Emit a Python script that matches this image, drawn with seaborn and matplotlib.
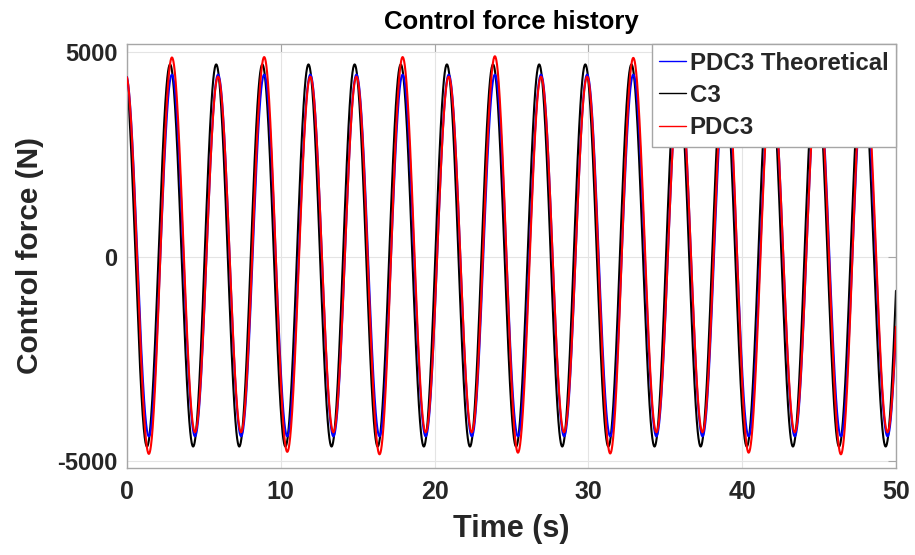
import numpy as np
import pandas as pd
import matplotlib
matplotlib.use("Agg")
import matplotlib.pyplot as plt
import seaborn as sns

# ---- data (times and values of successive extrema) ----
c3_ext_t = [-0.20, 1.30, 2.80, 4.30, 5.80, 7.30, 8.80, 10.30, 11.80, 13.30, 14.80,
            16.30, 17.80, 19.30, 20.80, 22.30, 23.80, 25.30, 26.80, 28.30, 29.80,
            31.30, 32.80, 34.30, 35.80, 37.30, 38.80, 40.30, 41.80, 43.30, 44.80,
            46.30, 47.80, 49.33, 50.85]
c3_ext_v = [4700, -4650, 4700, -4650, 4700, -4650, 4700, -4650, 4700, -4650, 4700,
            -4650, 4700, -4650, 4700, -4650, 4700, -4650, 4700, -4650, 4700,
            -4650, 4700, -4650, 4700, -4650, 4700, -4650, 4700, -4650, 4700,
            -4650, 4700, -4650, 4700]

pdc_ext_t = [-0.08, 1.42, 2.92, 4.42, 5.92, 7.42, 8.92, 10.42, 11.92, 13.42, 14.92,
             16.42, 17.92, 19.42, 20.92, 22.42, 23.92, 25.42, 26.92, 28.42, 29.92,
             31.42, 32.92, 34.42, 35.92, 37.42, 38.92, 40.42, 41.92, 43.42, 44.92,
             46.42, 47.92, 49.45, 50.95]
theo_ext_v = [4450, -4400, 4450, -4400, 4450, -4400, 4450, -4400, 4450, -4400, 4450,
              -4400, 4450, -4400, 4450, -4400, 4450, -4400, 4450, -4400, 4450,
              -4400, 4450, -4400, 4450, -4400, 4450, -4400, 4450, -4400, 4450,
              -4400, 4450, -4400, 4450]
pdc_ext_v = [4450, -4830, 4870, -4300, 4400, -4300, 4880, -4780, 4400, -4300, 4400,
             -4840, 4880, -4300, 4400, -4300, 4900, -4800, 4400, -4300, 4400,
             -4820, 4860, -4300, 4400, -4300, 4850, -4800, 4400, -4300, 4400,
             -4840, 4850, -4300, 4400]

series_names = ["PDC3 Theoretical", "C3", "PDC3"]
series_colors = ["#0000ff", "#000000", "#ff0000"]
x_ticks = [0, 10, 20, 30, 40, 50]
y_ticks = [-5000, 0, 5000]


def through_extrema(t, te, ve):
    te = np.asarray(te, float)
    ve = np.asarray(ve, float)
    idx = np.clip(np.searchsorted(te, t, side="right") - 1, 0, len(te) - 2)
    t0, t1 = te[idx], te[idx + 1]
    v0, v1 = ve[idx], ve[idx + 1]
    s = (t - t0) / (t1 - t0)
    return v0 + (v1 - v0) * (1 - np.cos(np.pi * s)) / 2


t = np.linspace(0, 50, 5001)
frames = []
for name, te, ve in [("PDC3 Theoretical", pdc_ext_t, theo_ext_v),
                     ("C3", c3_ext_t, c3_ext_v),
                     ("PDC3", pdc_ext_t, pdc_ext_v)]:
    frames.append(pd.DataFrame({"Time": t, "Force": through_extrema(t, te, ve), "Series": name}))
df = pd.concat(frames, ignore_index=True)

sns.set_style("white")
plt.rcParams["font.family"] = ["Liberation Sans", "DejaVu Sans"]
plt.rcParams["font.weight"] = "bold"
plt.rcParams["axes.unicode_minus"] = False

fig = plt.figure(figsize=(9.15, 5.55), dpi=100)
ax = fig.add_axes([0.1388, 0.1568, 0.8404, 0.7639])

zorders = {"C3": 2, "PDC3 Theoretical": 3, "PDC3": 4}
for name, col in zip(series_names, series_colors):
    sns.lineplot(data=df[df["Series"] == name], x="Time", y="Force", color=col,
                 lw=1.5, ax=ax, label=name, zorder=zorders[name], estimator=None)

ax.set_xlim(0, 50)
ax.set_ylim(-5175, 5200)
ax.set_xticks(x_ticks)
ax.set_yticks(y_ticks)
ax.grid(True, color="#e4e4e4", lw=0.8)
ax.set_axisbelow(True)
for sp in ax.spines.values():
    sp.set_color("#a6a6a6")
    sp.set_linewidth(1.0)
ax.tick_params(direction="in", length=6, width=0.8, color="#a6a6a6",
               top=True, right=True, labelsize=17, labelcolor="#262626")
ax.tick_params(axis="x", pad=9, labelsize=18)
ax.tick_params(axis="y", pad=7)
for lab in ax.get_xticklabels() + ax.get_yticklabels():
    lab.set_fontweight("bold")

ax.set_xlabel("Time (s)", fontsize=22, fontweight="bold", color="#262626", labelpad=7)
ax.set_ylabel("Control force (N)", fontsize=21.5, fontweight="bold", color="#262626", labelpad=9)
ax.set_title("Control force history", fontsize=18.5, fontweight="bold", color="#000000", pad=11)

handles, labels = ax.get_legend_handles_labels()
order = [labels.index(n) for n in series_names]
leg = ax.legend([handles[i] for i in order], [labels[i] for i in order],
                loc="upper right", bbox_to_anchor=(1.0, 1.0), borderaxespad=0.0,
                prop={"size": 17.3, "weight": "bold"}, handlelength=1.1,
                handletextpad=0.15, labelspacing=0.38, borderpad=0.32,
                fancybox=False, framealpha=1.0, edgecolor="#a6a6a6")
for h in leg.get_lines():
    h.set_linewidth(1.0)
leg.get_frame().set_linewidth(1.0)
leg.set_zorder(10)

fig.savefig("out.png", dpi=100)
